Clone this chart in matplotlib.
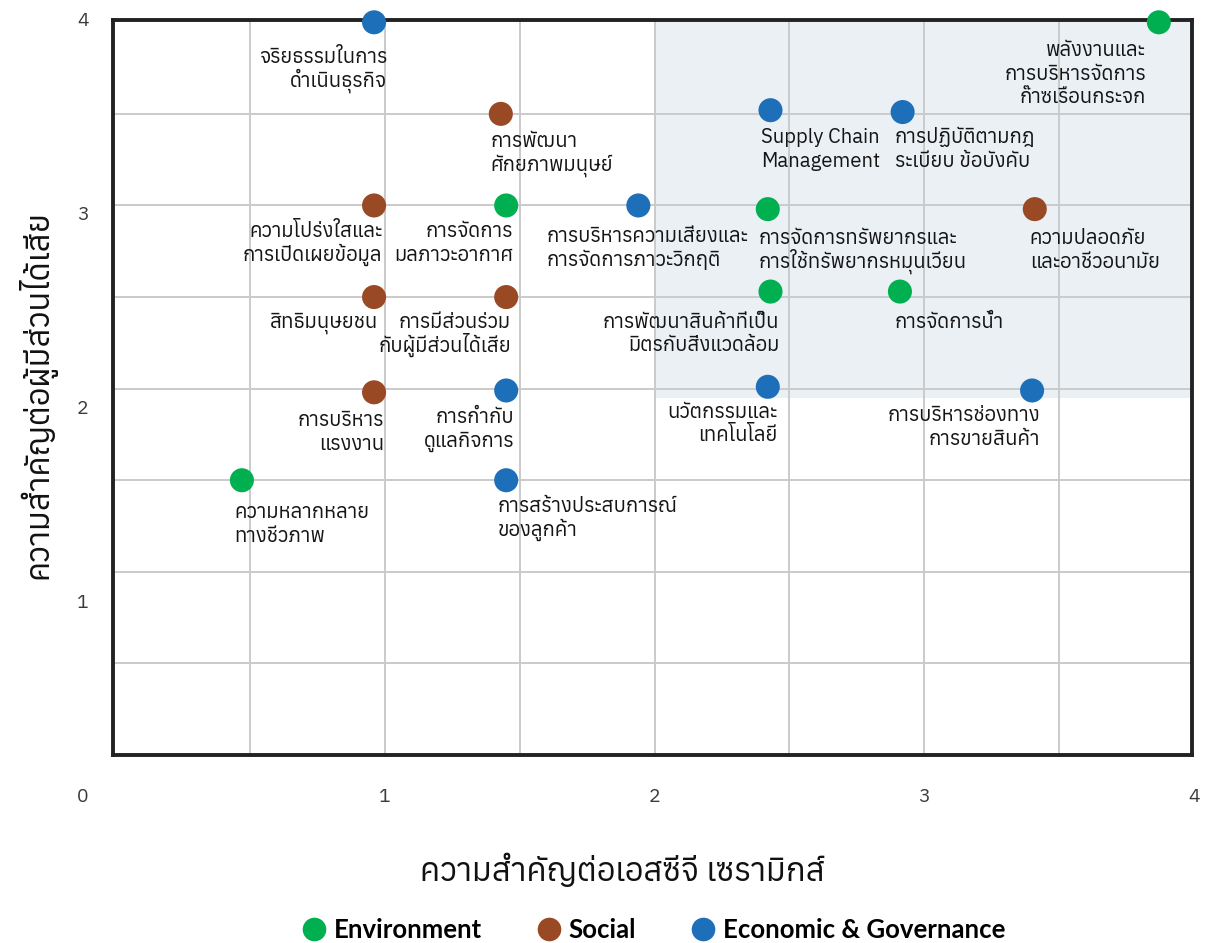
import matplotlib
matplotlib.use('Agg')
import matplotlib.pyplot as plt
from matplotlib.patches import Rectangle
from matplotlib.lines import Line2D
import numpy as np

plt.rcParams['font.family'] = ['Anuphan', 'Noto Sans Thai', 'DejaVu Sans']

# ---- data ----
env_names = ["พลังงานและ\nการบริหารจัดการ\nก๊าซเรือนกระจก", "การจัดการ\nมลภาวะอากาศ",
             "การจัดการทรัพยากรและ\nการใช้ทรัพยากรหมุนเวียน", "การพัฒนาสินค้าที่เป็น\nมิตรกับสิ่งแวดล้อม",
             "การจัดการน้ำ", "ความหลากหลาย\nทางชีวภาพ"]
env_x = [3.87, 1.45, 2.42, 2.43, 2.91, 0.47]
env_y = [4.00, 3.00, 2.98, 2.53, 2.53, 1.50]

soc_names = ["การพัฒนา\nศักยภาพมนุษย์", "ความโปร่งใสและ\nการเปิดเผยข้อมูล", "สิทธิมนุษยชน",
             "การมีส่วนร่วม\nกับผู้มีส่วนได้เสีย", "การบริหาร\nแรงงาน", "ความปลอดภัย\nและอาชีวอนามัย"]
soc_x = [1.43, 0.96, 0.96, 1.45, 0.96, 3.41]
soc_y = [3.50, 3.00, 2.50, 2.50, 1.98, 2.98]

eco_names = ["จริยธรรมในการ\nดำเนินธุรกิจ", "Supply Chain\nManagement", "การปฏิบัติตามกฎ\nระเบียบ ข้อบังคับ",
             "การบริหารความเสี่ยงและ\nการจัดการภาวะวิกฤติ", "การกำกับ\nดูแลกิจการ", "นวัตกรรมและ\nเทคโนโลยี",
             "การบริหารช่องทาง\nการขายสินค้า", "การสร้างประสบการณ์\nของลูกค้า"]
eco_x = [0.96, 2.43, 2.92, 1.94, 1.45, 2.42, 3.40, 1.45]
eco_y = [4.00, 3.52, 3.51, 3.00, 1.99, 2.01, 1.99, 1.50]

series_names = ["Environment", "Social", "Economic & Governance"]
tick_labels = ["0", "1", "2", "3", "4"]
x_title = "ความสำคัญต่อเอสซีจี เซรามิกส์"
y_title = "ความสำคัญต่อผู้มีส่วนได้เสีย"

# ---- styles: label placement in pixels (ha, dx from point, dy down to first baseline) ----
env_lab = [('right', -13, 34), ('right', 7, 32), ('left', -9, 35), ('right', 9, 36), ('left', -5, 36), ('left', -8, 38)]
soc_lab = [('left', -10, 33), ('right', 8, 32), ('right', 4, 31), ('right', 5, 31), ('right', 10, 34), ('left', -5, 35)]
eco_lab = [('right', 13, 41), ('left', -9, 33), ('left', -8, 31), ('left', -92, 37), ('right', 8, 33), ('right', 10, 31),
           ('right', 8, 31), ('left', -9, 32)]
colors = ["#00b050", "#994a24", "#1e6fb9"]
LS = 23.5          # line step in pixels
FS = 14.6          # label font size

W, H = 1205, 943
fig = plt.figure(figsize=(W / 100, H / 100), dpi=100)
ax = fig.add_axes([113 / W, 1 - 755 / H, (1192 - 113) / W, (755 - 20) / H])
ax.set_xlim(-0.008, 3.993)
ax.set_ylim(0, 4.0125)
ax.add_patch(Rectangle((2.0, 1.95), 2.1, 2.2, facecolor="#ebf0f5", edgecolor='none', zorder=0))
ax.set_xticks(np.arange(0.5, 4.0, 0.5))
ax.set_yticks(np.arange(0.5, 4.0, 0.5))
ax.grid(True, color="#cacaca", linewidth=1.4, zorder=1)
ax.set_axisbelow(True)
ax.tick_params(length=0, labelbottom=False, labelleft=False)
for s in ax.spines.values():
    s.set_linewidth(2.8)
    s.set_color("#222222")
    s.set_zorder(3)

for xs, ys, names, labs, c in [(env_x, env_y, env_names, env_lab, colors[0]),
                               (soc_x, soc_y, soc_names, soc_lab, colors[1]),
                               (eco_x, eco_y, eco_names, eco_lab, colors[2])]:
    ax.scatter(xs, ys, s=300, color=c, edgecolor='none', zorder=5, clip_on=False)
    for x, y, n, (ha, dx, dy) in zip(xs, ys, names, labs):
        for k, line in enumerate(n.split("\n")):
            ax.annotate(line, (x, y), xytext=(dx, -(dy + k * LS)), textcoords='offset pixels',
                        ha=ha, va='baseline', fontsize=FS, color="#151515", zorder=6,
                        annotation_clip=False)

# tick labels
tk = dict(ha='center', va='center', fontsize=14, color="#3a3a3a")
for i, t in enumerate(tick_labels[1:], start=1):
    ax.text(i, -0.057, t, transform=ax.get_xaxis_transform(), **tk)
    ax.text(-0.028, -0.057 + 0.264 * i, t, transform=ax.transAxes, **tk)
ax.text(-0.028, -0.057, tick_labels[0], transform=ax.transAxes, **tk)

fig.text(622 / W, 1 - 870 / H, x_title, ha='center', va='center', fontsize=23.5, color="#111111")
fig.text(37 / W, 1 - 395 / H, y_title, ha='center', va='center', fontsize=23.5, rotation=90, color="#111111")

handles = [Line2D([], [], marker='o', linestyle='none', markersize=17, color=c, markeredgewidth=0) for c in colors]
fig.legend(handles, series_names, loc='center', bbox_to_anchor=(653 / W, 1 - 930 / H), ncol=3, frameon=False,
           prop={'family': ['Lato', 'Liberation Sans', 'DejaVu Sans'], 'weight': 'bold', 'size': 18.5},
           handlelength=1.0, handletextpad=0.28, columnspacing=2.1)

fig.savefig("out.png", dpi=100)
